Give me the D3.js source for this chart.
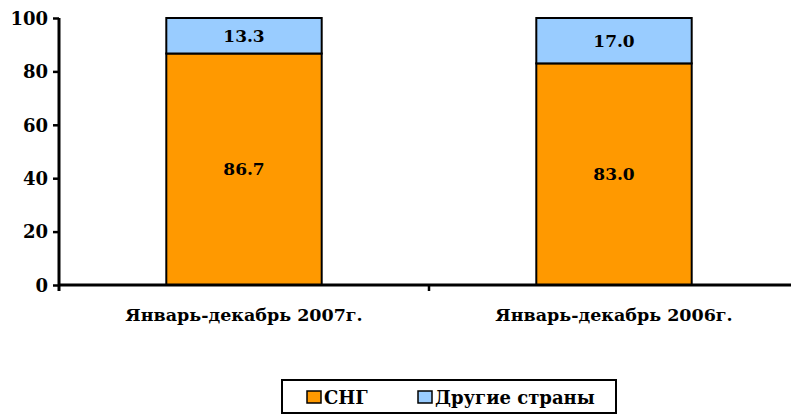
<!DOCTYPE html>
<html><head><meta charset="utf-8">
<script src="https://cdn.jsdelivr.net/npm/d3@7"></script>
<style>body{margin:0;background:#fff}svg{display:block}text{font-family:"DejaVu Serif",serif;font-weight:bold;fill:#000}</style>
</head><body><svg id="c" width="791" height="416"></svg>
<script>
const categories = ["Январь-декабрь 2007г.", "Январь-декабрь 2006г."];
const seriesNames = ["СНГ", "Другие страны"];
const cis = [86.7, 83.0];
const other = [13.3, 17.0];
const yTicks = [0, 20, 40, 60, 80, 100];
const colors = ["#FF9900", "#99CCFF"];

const svg = d3.select("#c");
const m = {l: 59, r: 799, t: 18, b: 285};
const x = d3.scaleBand().domain(categories).range([m.l, m.r]).paddingInner(0.58).paddingOuter(0.29);
const xo = d3.scaleBand().domain(categories).range([m.l, m.r]);
const y = d3.scaleLinear().domain([0, 100]).range([m.b, m.t]);

const data = categories.map((c, i) => ({c, vals: [cis[i], other[i]]}));
const stack = d3.stack().keys([0, 1]).value((d, k) => d.vals[k]);
const layers = stack(data);

layers.forEach((layer, k) => {
  svg.append("g").selectAll("rect").data(layer).join("rect")
    .attr("x", d => x(d.data.c)).attr("width", x.bandwidth())
    .attr("y", d => y(d[1])).attr("height", d => y(d[0]) - y(d[1]))
    .attr("fill", colors[k]).attr("stroke", "#000").attr("stroke-width", 2);
  svg.append("g").selectAll("text").data(layer).join("text")
    .attr("x", d => x(d.data.c) + x.bandwidth() / 2)
    .attr("y", d => (y(d[0]) + y(d[1])) / 2 + 6)
    .attr("text-anchor", "middle").style("font-size", "17px")
    .text(d => d.data.vals[k].toFixed(1));
});

// Y axis
const ya = svg.append("g").attr("transform", `translate(${m.l},0)`)
  .call(d3.axisLeft(y).tickValues(yTicks).tickSize(6).tickPadding(5));
ya.attr("font-size", null).attr("font-family", null);
ya.select(".domain").attr("stroke", "#000").attr("stroke-width", 3).attr("d", `M0,${m.t}V${m.b + 6}`);
ya.selectAll(".tick line").attr("stroke", "#000").attr("stroke-width", 2.5);
ya.selectAll(".tick text").attr("dy", "0.35em").style("font-size", "18px");

// X axis
const xa = svg.append("g").attr("transform", `translate(0,${m.b})`)
  .call(d3.axisBottom(xo).tickSize(0).tickPadding(24));
xa.attr("font-size", null).attr("font-family", null);
xa.select(".domain").attr("stroke", "#000").attr("stroke-width", 3).attr("d", `M${m.l},0H${m.r}`);
xa.selectAll(".tick text").style("font-size", "17.5px");
svg.append("g").selectAll("line").data(categories.slice(1)).join("line")
  .attr("x1", d => xo(d)).attr("x2", d => xo(d)).attr("y1", m.b).attr("y2", m.b + 6)
  .attr("stroke", "#000").attr("stroke-width", 2.5);

// Legend
const lg = svg.append("g");
lg.append("rect").attr("x", 282).attr("y", 380).attr("width", 334).attr("height", 33)
  .attr("fill", "#fff").attr("stroke", "#000").attr("stroke-width", 2);
const lx = [307, 418];
seriesNames.forEach((n, i) => {
  lg.append("rect").attr("x", lx[i]).attr("y", 391).attr("width", 14).attr("height", 12)
    .attr("fill", colors[i]).attr("stroke", "#000").attr("stroke-width", 1.5);
  lg.append("text").attr("x", lx[i] + 17).attr("y", 404).style("font-size", "18px").text(n);
});
</script></body></html>
